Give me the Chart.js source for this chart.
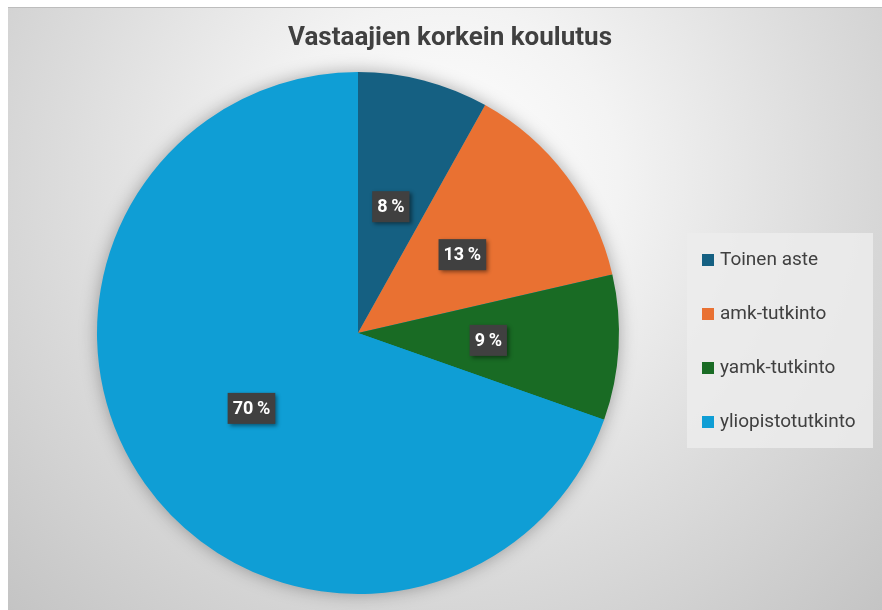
<!DOCTYPE html>
<html>
<head>
<meta charset="utf-8">
<script src="https://cdn.jsdelivr.net/npm/chart.js@4"></script>
<style>
    html, body { margin: 0; padding: 0; background: #fff; }
    #wrap {
        position: absolute; left: 8px; top: 7px; width: 874px; height: 603px;
        background: radial-gradient(ellipse farthest-corner at 50% 28%, #ffffff 0%, #f3f3f3 28%, #dcdcdc 62%, #c4c4c4 100%);
        box-shadow: inset 0 1px 0 #bdbdbd;
    }
</style>
</head>
<body>
<div id="wrap"><canvas id="chart1"></canvas></div>
<script>
const title = 'Vastaajien korkein koulutus';
const labels = ['Toinen aste', 'amk-tutkinto', 'yamk-tutkinto', 'yliopistotutkinto'];
const values = [8.1, 13.3, 9.0, 69.6];  // luettu kuvasta, näytetään pyöristettynä
const colors = ['#156082', '#E97132', '#196B24', '#0F9ED5'];

// varjo piirakan taakse
const pieShadow = {
    id: 'pieShadow',
    beforeDatasetsDraw(chart) {
        const arc = chart.getDatasetMeta(0).data[0];
        if (!arc) return;
        const ctx = chart.ctx;
        ctx.save();
        ctx.shadowColor = 'rgba(0,0,0,0.35)';
        ctx.shadowBlur = 18;
        ctx.fillStyle = colors[3];
        ctx.beginPath();
        ctx.arc(arc.x, arc.y, arc.outerRadius - 1, 0, Math.PI * 2);
        ctx.fill();
        ctx.restore();
    }
};

// prosenttilaatikot
const boxLabels = {
    id: 'boxLabels',
    afterDatasetsDraw(chart) {
        const ctx = chart.ctx;
        const total = values.reduce((a, b) => a + b, 0);
        ctx.save();
        ctx.font = 'bold 18px Roboto';
        ctx.textAlign = 'center';
        ctx.textBaseline = 'middle';
        chart.getDatasetMeta(0).data.forEach((arc, i) => {
            const p = arc.getCenterPoint();
            const txt = Math.round(values[i] / total * 100) + '\u2009%';
            const w = ctx.measureText(txt).width + 10;
            const h = 31;
            ctx.save();
            ctx.shadowColor = 'rgba(0,0,0,0.45)';
            ctx.shadowBlur = 4;
            ctx.shadowOffsetX = 2;
            ctx.shadowOffsetY = 2;
            ctx.fillStyle = '#404040';
            ctx.fillRect(p.x - w / 2, p.y - h / 2, w, h);
            ctx.restore();
            ctx.fillStyle = '#ffffff';
            ctx.fillText(txt, p.x, p.y + 1);
        });
        ctx.restore();
    }
};

// otsikko koko kaavion levyisenä + selite oikealla
const sideLegend = {
    id: 'sideLegend',
    afterDraw(chart) {
        const ctx = chart.ctx;
        ctx.save();
        ctx.font = 'bold 26px Roboto';
        ctx.fillStyle = '#404040';
        ctx.textAlign = 'center';
        ctx.textBaseline = 'middle';
        ctx.fillText(title, chart.width / 2 + 5, 31);

        const x0 = 679, y0 = 226, bw = 186, bh = 215;
        ctx.fillStyle = 'rgba(236,236,236,0.85)';
        ctx.fillRect(x0, y0, bw, bh);
        ctx.font = '19px Roboto';
        ctx.textAlign = 'left';
        labels.forEach((lab, i) => {
            const cy = y0 + 27 + i * 54;
            ctx.fillStyle = colors[i];
            ctx.fillRect(x0 + 15, cy - 6, 12, 12);
            ctx.fillStyle = '#404040';
            ctx.fillText(lab, x0 + 33, cy);
        });
        ctx.restore();
    }
};

document.addEventListener('DOMContentLoaded', () => {
    const chart1 = document.getElementById('chart1');
    new Chart(chart1.getContext('2d'), {
        type: 'pie',
        data: {
            labels: labels,
            datasets: [{
                data: values,
                backgroundColor: colors,
                borderWidth: 0
            }]
        },
        plugins: [pieShadow, boxLabels, sideLegend],
        options: {
            maintainAspectRatio: false,
            animation: false,
            rotation: 0,
            layout: {
                padding: { left: 0, right: 174, top: 65, bottom: 16 }
            },
            plugins: {
                legend: { display: false },
                tooltip: { enabled: false },
                title: { display: false }
            }
        }
    });
});
</script>
</body>
</html>
